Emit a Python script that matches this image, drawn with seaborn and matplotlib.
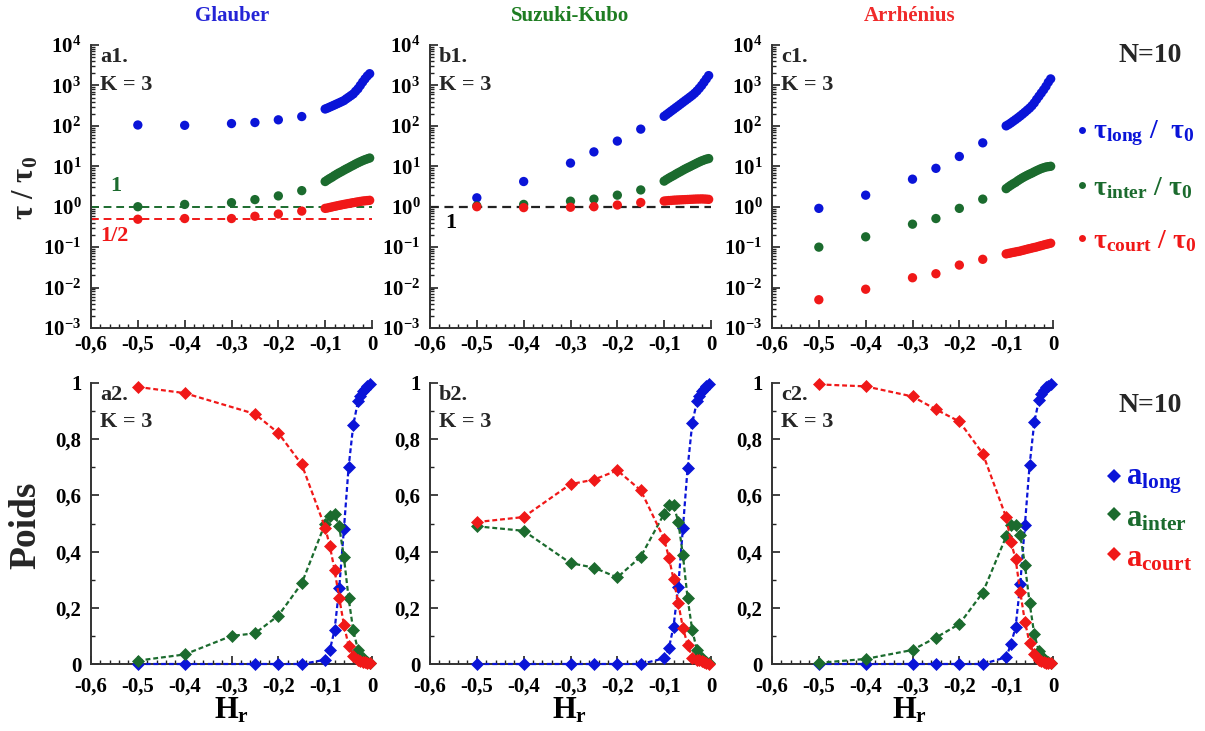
import numpy as np
import pandas as pd
import matplotlib
matplotlib.use("Agg")
import matplotlib.pyplot as plt
import seaborn as sns
from matplotlib.ticker import FixedLocator, FuncFormatter, LogLocator, MultipleLocator, NullFormatter
from matplotlib.lines import Line2D

# ---------------- data ----------------
x_sparse = [-0.5, -0.4, -0.3, -0.25, -0.2, -0.15]
x_dense_top = [-0.1, -0.095, -0.09, -0.085, -0.08, -0.075, -0.07, -0.065, -0.06, -0.055,
               -0.05, -0.045, -0.04, -0.035, -0.03, -0.025, -0.02, -0.015, -0.01, -0.005]

# Glauber (a1)
g_tau_long = [105, 103, 114, 121, 141, 170,
              261, 275, 292, 310, 329, 350, 372, 396, 422, 465, 510, 560, 617, 715, 826, 1000, 1210, 1450, 1710, 1950]
g_tau_inter = [1.0, 1.14, 1.26, 1.5, 1.85, 2.5,
               4.2, 4.6, 5.0, 5.4, 5.9, 6.4, 6.9, 7.4, 8.0, 8.6, 9.2, 9.9, 10.6, 11.4, 12.2, 13.0, 13.8, 14.6, 15.3, 16.0]
g_tau_court = [0.49, 0.51, 0.51, 0.58, 0.66, 0.78,
               0.91, 0.93, 0.96, 0.99, 1.02, 1.05, 1.08, 1.11, 1.14, 1.17, 1.2, 1.23, 1.26, 1.29, 1.32, 1.35, 1.38, 1.4, 1.42, 1.44]
# Suzuki-Kubo (b1)
s_tau_long = [1.66, 4.2, 12, 22.7, 42, 83,
              172, 190, 210, 232, 256, 283, 312, 345, 382, 422, 466, 515, 570, 640, 730, 850, 1000, 1200, 1450, 1750]
s_tau_inter = [1.05, 1.14, 1.37, 1.54, 1.93, 2.6,
               4.3, 4.7, 5.1, 5.5, 5.9, 6.4, 6.9, 7.4, 8.0, 8.6, 9.2, 9.8, 10.5, 11.2, 12.0, 12.8, 13.6, 14.3, 15.0, 15.5]
s_tau_court = [1.0, 0.95, 0.97, 1.0, 1.1, 1.27,
               1.38, 1.4, 1.42, 1.43, 1.45, 1.46, 1.47, 1.48, 1.49, 1.5, 1.51, 1.52, 1.53, 1.54, 1.55, 1.55, 1.56, 1.55, 1.54, 1.52]
# Arrhenius (c1)
r_tau_long = [0.91, 1.93, 4.8, 8.9, 17.5, 38,
              100, 108, 118, 130, 143, 158, 175, 195, 218, 245, 275, 315, 370, 450, 540, 650, 780, 950, 1200, 1450]
r_tau_inter = [0.1, 0.18, 0.37, 0.51, 0.91, 1.54,
               2.8, 3.1, 3.4, 3.7, 4.0, 4.4, 4.8, 5.2, 5.6, 6.0, 6.4, 6.8, 7.3, 7.8, 8.3, 8.8, 9.2, 9.6, 9.8, 10.0]
r_tau_court = [0.005, 0.0091, 0.0175, 0.022, 0.036, 0.05,
               0.068, 0.07, 0.072, 0.074, 0.076, 0.078, 0.08, 0.083, 0.086, 0.089, 0.092, 0.095, 0.098, 0.101,
               0.105, 0.109, 0.113, 0.117, 0.121, 0.125]

# weights (bottom row)
x_dense_bot = [-0.1, -0.09, -0.08, -0.07, -0.06, -0.05, -0.04, -0.03, -0.025, -0.02, -0.015, -0.01, -0.005]
x_sparse_g_lc = [-0.5, -0.4, -0.25, -0.2, -0.15]          # Glauber long/court (no -0.3 point)
x_sparse_full = [-0.5, -0.4, -0.3, -0.25, -0.2, -0.15]

g_a_long = [0, 0, 0, 0, 0,
            0.015, 0.05, 0.12, 0.27, 0.48, 0.70, 0.85, 0.935, 0.955, 0.97, 0.98, 0.99, 0.995]
g_a_inter = [0.012, 0.034, 0.1, 0.109, 0.172, 0.287,
             0.50, 0.525, 0.535, 0.49, 0.38, 0.235, 0.12, 0.05, 0.03, 0.02, 0.012, 0.007, 0.004]
g_a_court = [0.986, 0.964, 0.89, 0.822, 0.71,
             0.485, 0.42, 0.335, 0.235, 0.14, 0.065, 0.03, 0.015, 0.012, 0.008, 0.006, 0.004, 0.002]

s_a_long = [0, 0, 0, 0, 0, 0,
            0.02, 0.056, 0.133, 0.275, 0.483, 0.697, 0.857, 0.935, 0.955, 0.97, 0.98, 0.99, 0.995]
s_a_inter = [0.49, 0.474, 0.359, 0.343, 0.308, 0.382,
             0.535, 0.565, 0.565, 0.507, 0.388, 0.234, 0.12, 0.05, 0.03, 0.02, 0.012, 0.007, 0.004]
s_a_court = [0.505, 0.523, 0.64, 0.656, 0.689, 0.618,
             0.445, 0.379, 0.302, 0.218, 0.129, 0.069, 0.023, 0.015, 0.015, 0.01, 0.008, 0.003, 0.001]

r_a_long = [0, 0, 0, 0, 0, 0,
            0.024, 0.07, 0.13, 0.283, 0.495, 0.707, 0.86, 0.94, 0.96, 0.975, 0.985, 0.99, 0.995]
r_a_inter = [0.004, 0.018, 0.05, 0.094, 0.142, 0.254,
             0.454, 0.495, 0.495, 0.46, 0.354, 0.218, 0.106, 0.045, 0.028, 0.018, 0.01, 0.006, 0.003]
r_a_court = [0.995, 0.988, 0.952, 0.906, 0.863, 0.749,
             0.522, 0.435, 0.375, 0.257, 0.151, 0.075, 0.034, 0.015, 0.012, 0.007, 0.005, 0.004, 0.002]

titles = ["Glauber", "Suzuki-Kubo", "Arrhénius"]
panel_top = ["a1.", "b1.", "c1."]
panel_bot = ["a2.", "b2.", "c2."]
x_ticks = [-0.6, -0.5, -0.4, -0.3, -0.2, -0.1, 0.0]
y_ticks_bot = [0, 0.2, 0.4, 0.6, 0.8, 1.0]

# ---------------- style ----------------
sns.set_theme(style="ticks")
plt.rcParams['font.family'] = ['Liberation Serif', 'DejaVu Serif']
plt.rcParams['font.weight'] = 'bold'
plt.rcParams['mathtext.fontset'] = 'custom'
plt.rcParams['mathtext.rm'] = 'Liberation Serif:bold'
plt.rcParams['mathtext.it'] = 'Liberation Serif:bold'
plt.rcParams['mathtext.bf'] = 'Liberation Serif:bold'
plt.rcParams['axes.linewidth'] = 1.4

BLUE = '#0a14d8'
GREEN = '#1b6b2e'
RED = '#f01818'
TBLUE = '#2424d6'
TGREEN = '#1e7d22'
TRED = '#f02a2a'

W, H = 1205, 731
fig = plt.figure(figsize=(W / 100, H / 100), dpi=100)

def px(x, y):
    return x / W, 1 - y / H

lefts = [91, 430, 772]
aw = 281
top_ax = []
bot_ax = []
for l in lefts:
    top_ax.append(fig.add_axes([l / W, 1 - 328 / H, aw / W, (328 - 45) / H]))
    bot_ax.append(fig.add_axes([l / W, 1 - 664 / H, aw / W, (664 - 383) / H]))

comma_fmt = FuncFormatter(lambda v, p: '0' if abs(v) < 1e-9 else ('1' if abs(v - 1) < 1e-9 else f'{v:.1f}'.replace('.', ',')))

def style_axis(ax, xpad):
    sns.despine(ax=ax)
    ax.set_xlim(-0.6, 0)
    ax.xaxis.set_major_locator(FixedLocator(x_ticks))
    ax.xaxis.set_minor_locator(MultipleLocator(0.02))
    ax.xaxis.set_major_formatter(comma_fmt)
    ax.tick_params(which='major', direction='in', length=6, width=1.2, labelsize=15, colors='#222222',
                   labelcolor='black')
    ax.tick_params(axis='x', which='major', pad=xpad)
    ax.tick_params(axis='y', which='major', pad=7)
    ax.tick_params(which='minor', direction='in', length=3, width=1.0, colors='#222222')
    for lab in ax.get_xticklabels() + ax.get_yticklabels():
        lab.set_fontweight('bold')
    for s in ['left', 'bottom']:
        ax.spines[s].set_color('#333333')

top_data = [
    (g_tau_long, g_tau_inter, g_tau_court),
    (s_tau_long, s_tau_inter, s_tau_court),
    (r_tau_long, r_tau_inter, r_tau_court),
]
x_top = x_sparse + x_dense_top

for i, ax in enumerate(top_ax):
    lg, it, ct = top_data[i]
    ax.set_yscale('log')
    # reference lines
    if i == 0:
        ax.axhline(1.0, color=GREEN, ls=(0, (4, 2.5)), lw=1.4, zorder=1)
        ax.axhline(0.5, color=RED, ls=(0, (4, 2.5)), lw=1.4, zorder=1)
        ax.text(-0.547, 3.2, "1", color=GREEN, fontsize=16, fontweight='bold', ha='center', va='center')
        ax.text(-0.549, 0.19, "1/2", color=RED, fontsize=16, fontweight='bold', ha='center', va='center')
    if i == 1:
        ax.axhline(1.0, color='#222222', ls=(0, (4, 2.5)), lw=1.6, zorder=1)
        ax.text(-0.555, 0.39, "1", color='black', fontsize=16, fontweight='bold', ha='center', va='center')
    for vals, col in [(lg, BLUE), (it, GREEN), (ct, RED)]:
        df = pd.DataFrame({'x': x_top, 'y': vals})
        sns.scatterplot(data=df, x='x', y='y', ax=ax, color=col, s=45, edgecolor='none',
                        linewidth=0, clip_on=False, zorder=3, legend=False)
    ax.set_ylim(1e-3, 1e4)
    ax.yaxis.set_major_locator(LogLocator(base=10, numticks=20))
    ax.yaxis.set_minor_locator(LogLocator(base=10, subs=np.arange(2, 10), numticks=20))
    ax.yaxis.set_minor_formatter(NullFormatter())
    ax.set_xlabel('')
    ax.set_ylabel('')
    style_axis(ax, 5)
    ax.text(0.032, 0.958, panel_top[i], transform=ax.transAxes, fontsize=16, fontweight='bold', va='center')
    ax.text(0.032, 0.859, "K = 3", transform=ax.transAxes, fontsize=16, fontweight='bold', va='center')

bot_data = [
    ((x_sparse_g_lc, g_a_long), (x_sparse_full, g_a_inter), (x_sparse_g_lc, g_a_court)),
    ((x_sparse_full, s_a_long), (x_sparse_full, s_a_inter), (x_sparse_full, s_a_court)),
    ((x_sparse_full, r_a_long), (x_sparse_full, r_a_inter), (x_sparse_full, r_a_court)),
]
for i, ax in enumerate(bot_ax):
    for (xs, vals), col, z in zip(bot_data[i], [BLUE, GREEN, RED], [3, 4, 5]):
        df = pd.DataFrame({'x': list(xs) + x_dense_bot, 'y': vals})
        sns.lineplot(data=df, x='x', y='y', ax=ax, color=col, lw=1.6, linestyle=(0, (2.2, 1.3)),
                     marker='D', markersize=6.5, markeredgecolor=col, markeredgewidth=0.5,
                     clip_on=False, zorder=z, legend=False, sort=True)
    ax.set_ylim(0, 1)
    ax.yaxis.set_major_locator(FixedLocator(y_ticks_bot))
    ax.yaxis.set_minor_locator(MultipleLocator(0.1))
    ax.yaxis.set_major_formatter(comma_fmt)
    ax.set_xlabel('')
    ax.set_ylabel('')
    style_axis(ax, 9)
    ax.text(0.032, 0.957, panel_bot[i], transform=ax.transAxes, fontsize=16, fontweight='bold', va='center')
    ax.text(0.032, 0.861, "K = 3", transform=ax.transAxes, fontsize=16, fontweight='bold', va='center')

# ---------------- figure texts ----------------
for cx, t, c in zip([232, 570, 910], titles, [TBLUE, TGREEN, TRED]):
    fig.text(*px(cx, 16), t, color=c, fontsize=15, fontweight='bold', ha='center', va='center')
    fig.text(*px(cx, 711), r"H$_{\mathrm{r}}$", color='black', fontsize=22, fontweight='bold', ha='center', va='center')

fig.text(*px(26, 188), r"τ / τ$_{0}$", fontsize=22, fontweight='bold', rotation=90, ha='center', va='center')
fig.text(*px(26, 525), "Poids", fontsize=27, fontweight='bold', rotation=90, ha='center', va='center')

fig.text(*px(1150, 56), "N=10", fontsize=20, fontweight='bold', ha='center', va='center')
fig.text(*px(1150, 406), "N=10", fontsize=20, fontweight='bold', ha='center', va='center')

top_leg = [(133, r"τ$_{\mathrm{long}}$ /  τ$_{0}$", BLUE),
           (188, r"τ$_{\mathrm{inter}}$ / τ$_{0}$", GREEN),
           (241, r"τ$_{\mathrm{court}}$ / τ$_{0}$", RED)]
for y, t, c in top_leg:
    fig.add_artist(Line2D([1082 / W], [1 - (y - 3) / H], transform=fig.transFigure, marker='o',
                          markersize=5, color=c, markeredgewidth=0, linestyle='none'))
    fig.text(*px(1093, y), t, color=c, fontsize=20, fontweight='bold', ha='left', va='center')

bot_leg = [(481, r"a$_{\mathrm{long}}$", BLUE),
           (519, r"a$_{\mathrm{inter}}$", GREEN),
           (559, r"a$_{\mathrm{court}}$", RED)]
for y, t, c in bot_leg:
    fig.add_artist(Line2D([1114 / W], [1 - (y - 5) / H], transform=fig.transFigure, marker='D',
                          markersize=7, color=c, markeredgewidth=0, linestyle='none'))
    fig.text(*px(1126, y), t, color=c, fontsize=22, fontweight='bold', ha='left', va='center')

fig.savefig("out.png", dpi=100)
